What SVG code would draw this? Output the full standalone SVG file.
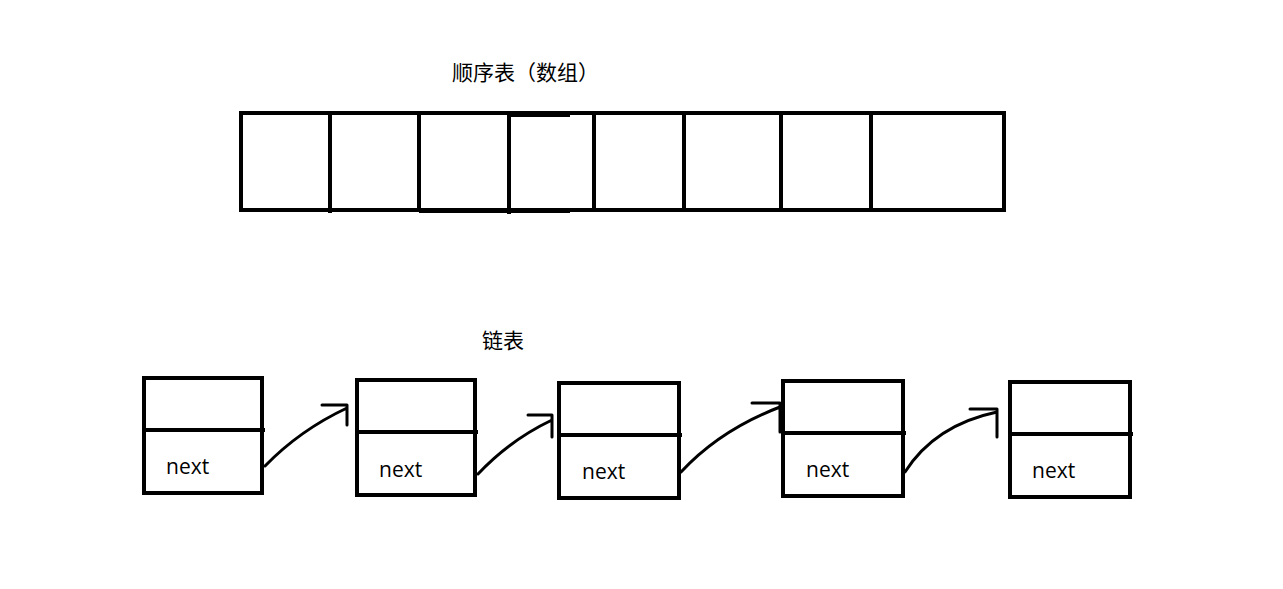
<svg xmlns="http://www.w3.org/2000/svg" width="1283" height="589" viewBox="0 0 1283 589">
<style>
.b{fill:none;stroke:#000;stroke-width:4}
.c{fill:none;stroke:#000;stroke-width:3;stroke-linecap:round;stroke-linejoin:round}
.t{font-family:"Noto Sans CJK SC","Noto Sans",sans-serif;font-size:21px;fill:#000}
.n{font-family:"Open Sans","Noto Sans",sans-serif;font-size:21px;fill:#000}
</style>
<rect width="1283" height="589" fill="#fff"/>
<text class="t" x="452" y="80">顺序表（数组）</text>
<g id="array">
<rect class="b" x="241" y="113" width="763" height="97"/>
<path class="b" d="M330 113V213M419 113V212M509 113V214M594 113V210M684 113V212M781 113V210M871 113V212M419 211H570M509 115H570"/>
</g>
<text class="t" x="482" y="348">链表</text>
<g id="node1"><rect class="b" x="144" y="378" width="118" height="115"/><path class="b" d="M144 430H265"/><text class="n" x="166" y="474">next</text></g>
<g id="node2"><rect class="b" x="357" y="380" width="118" height="115"/><path class="b" d="M357 432H478"/><text class="n" x="379" y="477">next</text></g>
<g id="node3"><rect class="b" x="559" y="383" width="120" height="115"/><path class="b" d="M559 435H682"/><text class="n" x="582" y="479">next</text></g>
<g id="node4"><rect class="b" x="783" y="381" width="120" height="115"/><path class="b" d="M783 433H906"/><text class="n" x="806" y="477">next</text></g>
<g id="node5"><rect class="b" x="1010" y="382" width="120" height="115"/><path class="b" d="M1010 434H1133"/><text class="n" x="1032" y="478">next</text></g>
<g id="connectors">
<path class="c" d="M265 466Q300 430 347 408M322 405H347V425"/>
<path class="c" d="M478 474Q510 440 552 420M528 415H552V437"/>
<path class="c" d="M681 472Q720 430 780 407M752 403H780V432"/>
<path class="c" d="M905 472Q935 425 997 412M970 409H997V437"/>
</g>
</svg>
